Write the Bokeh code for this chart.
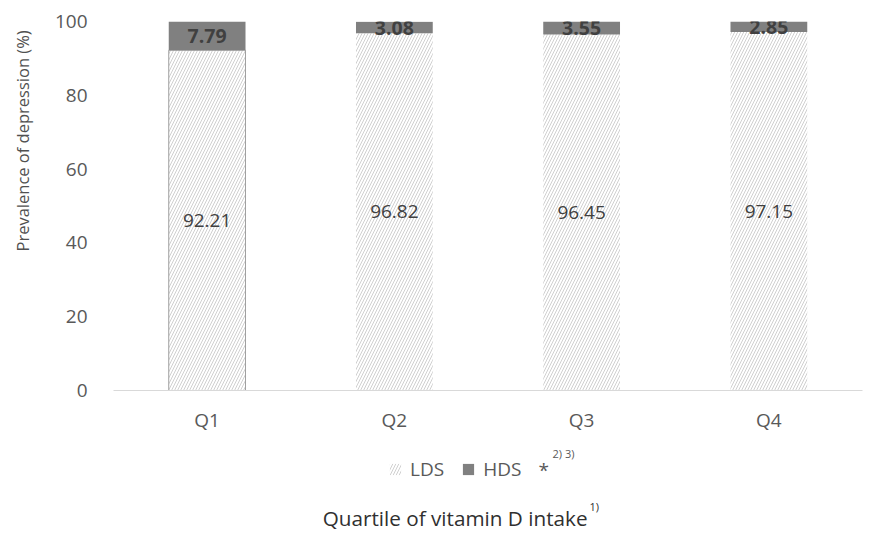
import math
from bokeh.plotting import figure
from bokeh.layouts import column, row
from bokeh.models import (ColumnDataSource, Legend, LegendItem, FactorRange, LabelSet,
                          Label, Range1d)
from bokeh.core.properties import value
from bokeh.embed import file_html
from bokeh.resources import INLINE

quartiles = ["Q1", "Q2", "Q3", "Q4"]
lds = [92.21, 96.82, 96.45, 97.15]
hds = [7.79, 3.08, 3.55, 2.85]
y_ticks = [0, 20, 40, 60, 80, 100]
series_names = ["LDS", "HDS"]
y_title = "Prevalence of depression (%)"
x_title = "Quartile of vitamin D intake"

FONT = "Open Sans"
HATCH = dict(fill_color="white", hatch_pattern="/", hatch_color="#d0d0d0",
             hatch_scale=6, hatch_weight=1)
HDS_FILL = "#808080"

src = ColumnDataSource(dict(
    q=quartiles,
    lds=lds,
    hds=hds,
    top=[a + b for a, b in zip(lds, hds)],
    lds_mid=[a / 2 for a in lds],
    hds_mid=[a + b / 2 for a, b in zip(lds, hds)],
    lds_txt=["%.2f" % v for v in lds],
    hds_txt=["%.2f" % v for v in hds],
    outline=["#a0a0a0", "rgba(0,0,0,0)", "rgba(0,0,0,0)", "rgba(0,0,0,0)"],
))

# ---------------- left strip: y-axis title ----------------
left = figure(width=40, height=445, x_range=Range1d(0, 40), y_range=Range1d(0, 445),
              x_axis_type=None, y_axis_type=None, output_backend="svg",
              toolbar_location=None, min_border=0, min_border_left=0, min_border_right=0,
              min_border_top=0, min_border_bottom=0)
left.outline_line_color = None
left.xgrid.visible = False
left.ygrid.visible = False
left.add_layout(Label(x=22, y=445 - 144, text=y_title, angle=math.pi / 2,
                      text_align="center", text_baseline="middle",
                      text_font=FONT, text_font_size="16.5px", text_color="#505050"))

# ---------------- main chart ----------------
p = figure(width=832, height=445, x_range=FactorRange(*quartiles, range_padding=0),
           y_range=(0, 100), output_backend="svg", toolbar_location=None,
           min_border_left=73, min_border_right=10, min_border_top=21, min_border_bottom=55)
p.x_range.range_padding = 0
p.outline_line_color = None
p.xgrid.visible = False
p.ygrid.visible = False

p.vbar(x="q", top="lds", bottom=0, width=0.41, source=src, line_color=None, **HATCH)
p.vbar(x="q", top="lds", bottom=0, width=0.41, source=src,
       fill_color=None, line_color="outline", line_width=1)
p.vbar(x="q", top="top", bottom="lds", width=0.41, source=src,
       fill_color=HDS_FILL, line_color=None)

p.add_layout(LabelSet(x="q", y="lds_mid", text="lds_txt", source=src,
                      text_align="center", text_baseline="middle",
                      text_font=value(FONT), text_font_size="19px", text_color="#404040"))
p.add_layout(LabelSet(x="q", y="hds_mid", text="hds_txt", source=src,
                      text_align="center", text_baseline="middle",
                      text_font=value(FONT), text_font_size="19.5px", text_font_style="bold",
                      text_color="#404040"))

p.yaxis.ticker = y_ticks
p.yaxis.axis_line_color = None
p.yaxis.major_tick_line_color = None
p.yaxis.minor_tick_line_color = None
p.yaxis.major_label_standoff = 20
p.yaxis.major_label_text_font = FONT
p.yaxis.major_label_text_font_size = "19px"
p.yaxis.major_label_text_color = "#595959"

p.xaxis.axis_line_color = "#d9d9d9"
p.xaxis.axis_line_width = 1
p.xaxis.major_tick_line_color = None
p.xaxis.minor_tick_line_color = None
p.xaxis.major_label_standoff = 10
p.xaxis.major_label_text_font = FONT
p.xaxis.major_label_text_font_size = "19px"
p.xaxis.major_label_text_color = "#595959"

# ---------------- bottom strip: legend + x-axis title ----------------
b = figure(width=872, height=89, x_range=Range1d(0, 872), y_range=Range1d(0, 89),
           x_axis_type=None, y_axis_type=None, output_backend="svg",
           toolbar_location=None, min_border=0, min_border_left=0, min_border_right=0,
           min_border_top=0, min_border_bottom=0)
b.outline_line_color = None
b.xgrid.visible = False
b.ygrid.visible = False

# legend proxies: zero-size bars placed outside the strip's visible range,
# used only to supply the legend swatches
proxy = ColumnDataSource(dict(x=[-100], top=[0]))
k_lds = b.vbar(x="x", top="top", bottom=0, width=1, source=proxy, line_color=None, **HATCH)
k_hds = b.vbar(x="x", top="top", bottom=0, width=1, source=proxy,
               fill_color=HDS_FILL, line_color=None)

legend = Legend(items=[LegendItem(label=series_names[0], renderers=[k_lds]),
                       LegendItem(label=series_names[1], renderers=[k_hds])],
                orientation="horizontal", location=(388, 52),
                padding=0, margin=0, spacing=17, label_standoff=8,
                glyph_width=14, glyph_height=14,
                border_line_color=None, background_fill_alpha=0,
                label_text_font=FONT, label_text_font_size="19px",
                label_text_color="#595959")
b.add_layout(legend, "center")

b.add_layout(Label(x=538, y=65, text="*", text_align="left", text_baseline="alphabetic",
                   text_font=FONT, text_font_size="19px", text_color="#595959"))
b.add_layout(Label(x=552, y=81, text="2) 3)", text_align="left",
                   text_baseline="alphabetic",
                   text_font=FONT, text_font_size="11px", text_color="#595959"))
b.add_layout(Label(x=587, y=17, text=x_title, text_align="right",
                   text_baseline="alphabetic",
                   text_font=FONT, text_font_size="20.7px", text_color="#303030"))
b.add_layout(Label(x=589, y=28, text="1)", text_align="left",
                   text_baseline="alphabetic",
                   text_font=FONT, text_font_size="11px", text_color="#303030"))

layout = column(row(left, p, spacing=0), b, spacing=0)
open("out.html", "w").write(file_html(layout, INLINE))
